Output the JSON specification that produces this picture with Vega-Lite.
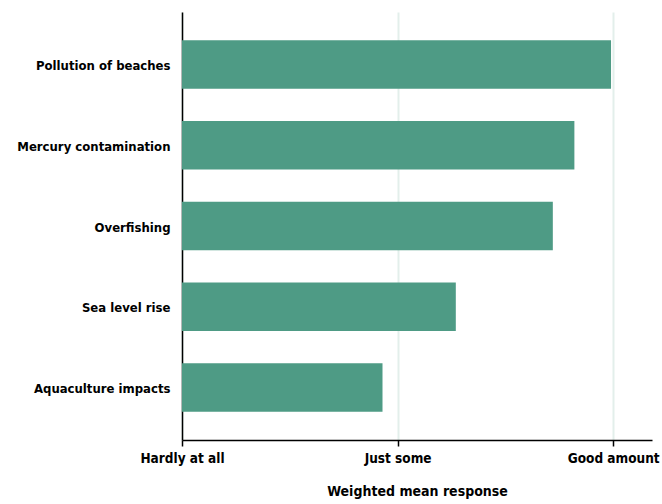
{
  "$schema": "https://vega.github.io/schema/vega-lite/v6.json",
  "width": 470,
  "height": 428,
  "autosize": {"type": "none"},
  "padding": {"left": 182, "top": 12, "right": 10, "bottom": 64},
  "background": "white",
  "config": {
    "view": {"stroke": null},
    "font": "DejaVu Sans Condensed"
  },
  "data": {
    "values": [
      {"issue": "Pollution of beaches", "value": 2.99},
      {"issue": "Mercury contamination", "value": 2.82},
      {"issue": "Overfishing", "value": 2.72},
      {"issue": "Sea level rise", "value": 2.27},
      {"issue": "Aquaculture impacts", "value": 1.93}
    ]
  },
  "mark": {"type": "bar", "color": "#4e9b85"},
  "encoding": {
    "y": {
      "field": "issue",
      "type": "nominal",
      "sort": null,
      "scale": {"paddingInner": 0.4, "paddingOuter": 0.35},
      "axis": {
        "title": null,
        "ticks": false,
        "domainColor": "#000000",
        "domainWidth": 1.5,
        "labelFont": "DejaVu Sans Condensed",
        "labelFontWeight": "bold",
        "labelFontSize": 13,
        "labelColor": "#000000",
        "labelPadding": 12,
        "labelOffset": 1.5,
        "grid": false
      }
    },
    "x": {
      "field": "value",
      "type": "quantitative",
      "scale": {"domain": [1, 3.18], "nice": false, "zero": false},
      "axis": {
        "values": [1, 2, 3],
        "labelExpr": "datum.value == 1 ? 'Hardly at all' : datum.value == 2 ? 'Just some' : 'Good amount'",
        "title": "Weighted mean response",
        "titleFont": "DejaVu Sans Condensed",
        "titleFontWeight": "bold",
        "titleFontSize": 14,
        "titleColor": "#000000",
        "titlePadding": 20,
        "labelFont": "DejaVu Sans Condensed",
        "labelFontWeight": "bold",
        "labelFontSize": 13.5,
        "labelColor": "#000000",
        "labelPadding": 5,
        "labelOverlap": false,
        "labelFlush": false,
        "domainColor": "#000000",
        "domainWidth": 1.5,
        "tickColor": "#000000",
        "tickSize": 6,
        "tickWidth": 1.5,
        "grid": true,
        "gridColor": "#e3efeb",
        "gridWidth": 2
      }
    },
    "x2": {"datum": 1}
  }
}
